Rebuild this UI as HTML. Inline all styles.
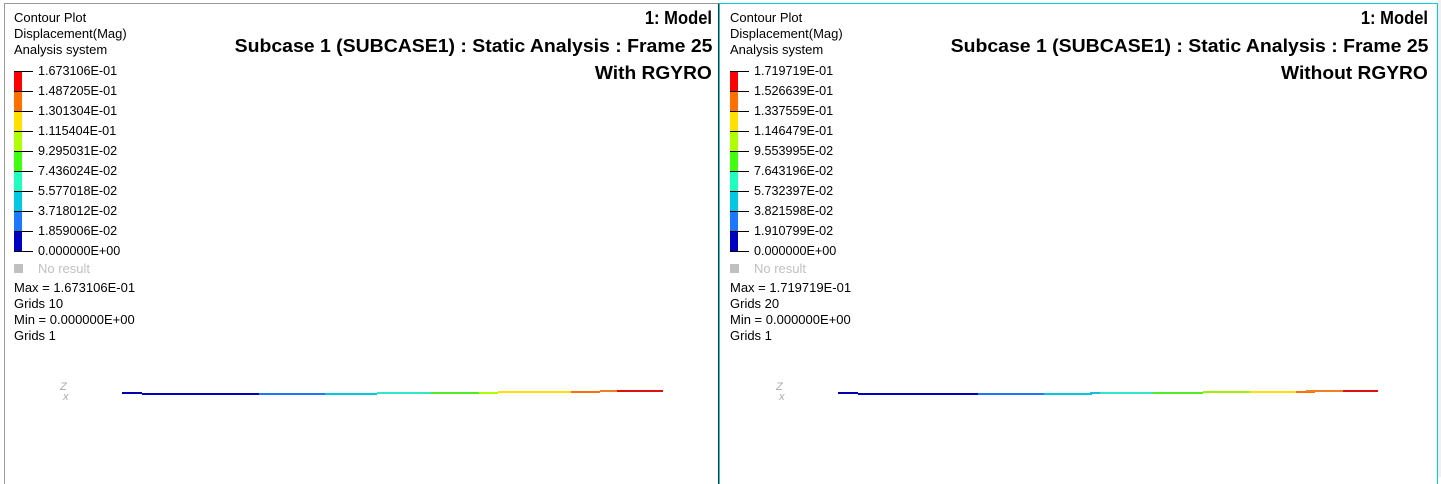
<!DOCTYPE html>
<html><head><style>
body{margin:0;width:1441px;height:477px;background:#fff;position:relative;overflow:hidden;font-family:"Liberation Sans",Arial,sans-serif}
.p{position:absolute;top:3px;height:480px}
.t{position:absolute;font-size:13px;color:#000;white-space:nowrap;line-height:14px}
.h{position:absolute;font-size:18px;font-weight:bold;white-space:nowrap;line-height:20px;transform-origin:right center}
.b{position:absolute;width:8px;height:20px}
.k{position:absolute;width:19px;height:1px;background:#000}
.s{position:absolute;height:2px}
</style></head><body>
<div class="p" style="left:4px;width:713px;border-left:1px solid #999;border-top:1px solid #999;border-right:1px solid #333"></div>
<div class="p" style="left:719px;width:717px;border-left:1px solid #00d0e0;border-top:1px solid #00d0e0;border-right:1px solid #00d0e0"></div>
<div style="position:absolute;left:1438px;top:0;width:3px;height:477px;background:#f0f0f0"></div>
<div id="L"></div>
<script>
const cols=['#ff0000','#ff7000','#ffe000','#b0ff00','#40ff10','#20ffc0','#00c8e0','#1e78ff','#0000c0'];
function panel(ox,vals,tt,maxv,g,segs){
 let h='';
 h+=`<div class="t" style="left:${ox+14}px;top:11px">Contour Plot</div>`;
 h+=`<div class="t" style="left:${ox+14}px;top:27px">Displacement(Mag)</div>`;
 h+=`<div class="t" style="left:${ox+14}px;top:43px">Analysis system</div>`;
 cols.forEach((c,i)=>{h+=`<div class="b" style="left:${ox+14}px;top:${71+i*20}px;background:${c}"></div>`});
 vals.forEach((v,i)=>{let y=71+i*20;h+=`<div class="k" style="left:${ox+14}px;top:${y}px"></div><div class="t" style="left:${ox+38}px;top:${y-7}px;font-size:12.6px">${v}</div>`});
 h+=`<div style="position:absolute;left:${ox+14}px;top:264px;width:9px;height:9px;background:#c0c0c0"></div>`;
 h+=`<div class="t" style="left:${ox+38}px;top:262px;color:#c0c0c0">No result</div>`;
 h+=`<div class="t" style="left:${ox+14}px;top:281px">Max = ${maxv}</div>`;
 h+=`<div class="t" style="left:${ox+14}px;top:297px">Grids ${g}</div>`;
 h+=`<div class="t" style="left:${ox+14}px;top:313px">Min = 0.000000E+00</div>`;
 h+=`<div class="t" style="left:${ox+14}px;top:329px">Grids 1</div>`;
 const r=1441-(ox+712);
 h+=`<div class="h" style="right:${r}px;top:8px;transform:scaleX(0.92)">1: Model</div>`;
 h+=`<div class="h" style="right:${r}px;top:36px;transform:scaleX(1.08)">Subcase 1 (SUBCASE1) : Static Analysis : Frame 25</div>`;
 h+=`<div class="h" style="right:${r}px;top:63px;transform:scaleX(1.065)">${tt}</div>`;
 h+=`<div style="position:absolute;left:${ox+60}px;top:382px;font-size:11px;color:#aaa;font-style:italic;line-height:10px">Z<br>&nbsp;x</div>`;
 segs.forEach(s=>{h+=`<div class="s" style="left:${s[0]}px;width:${s[1]-s[0]}px;top:${s[2]}px;background:${s[3]}"></div>`});
 return h;
}
let out=panel(0,['1.673106E-01','1.487205E-01','1.301304E-01','1.115404E-01','9.295031E-02','7.436024E-02','5.577018E-02','3.718012E-02','1.859006E-02','0.000000E+00'],'With RGYRO','1.673106E-01',10,
[[122,142,392,'#0000b0'],[142,259,393,'#0000c0'],[259,325,393,'#1e78ff'],[325,377,393,'#00c8e0'],[377,431,392,'#30e8c8'],[431,479,392,'#50ee20'],[479,498,392,'#b0ff00'],[498,571,391,'#ffe000'],[571,600,391,'#ff7000'],[600,617,390,'#f08020'],[617,663,390,'#e01010']]);
out+=panel(716,['1.719719E-01','1.526639E-01','1.337559E-01','1.146479E-01','9.553995E-02','7.643196E-02','5.732397E-02','3.821598E-02','1.910799E-02','0.000000E+00'],'Without RGYRO','1.719719E-01',20,
[[838,858,392,'#0000b0'],[858,978,393,'#0000c0'],[978,1044,393,'#1e78ff'],[1044,1092,393,'#00c8e0'],[1090,1100,392,'#20b8e0'],[1100,1153,392,'#30e8c8'],[1153,1203,392,'#50ee20'],[1203,1250,391,'#a0f000'],[1250,1296,391,'#ffe000'],[1296,1315,391,'#ff7000'],[1306,1343,390,'#f08020'],[1343,1378,390,'#e01010']]);
document.getElementById('L').innerHTML=out;
</script>
</body></html>
